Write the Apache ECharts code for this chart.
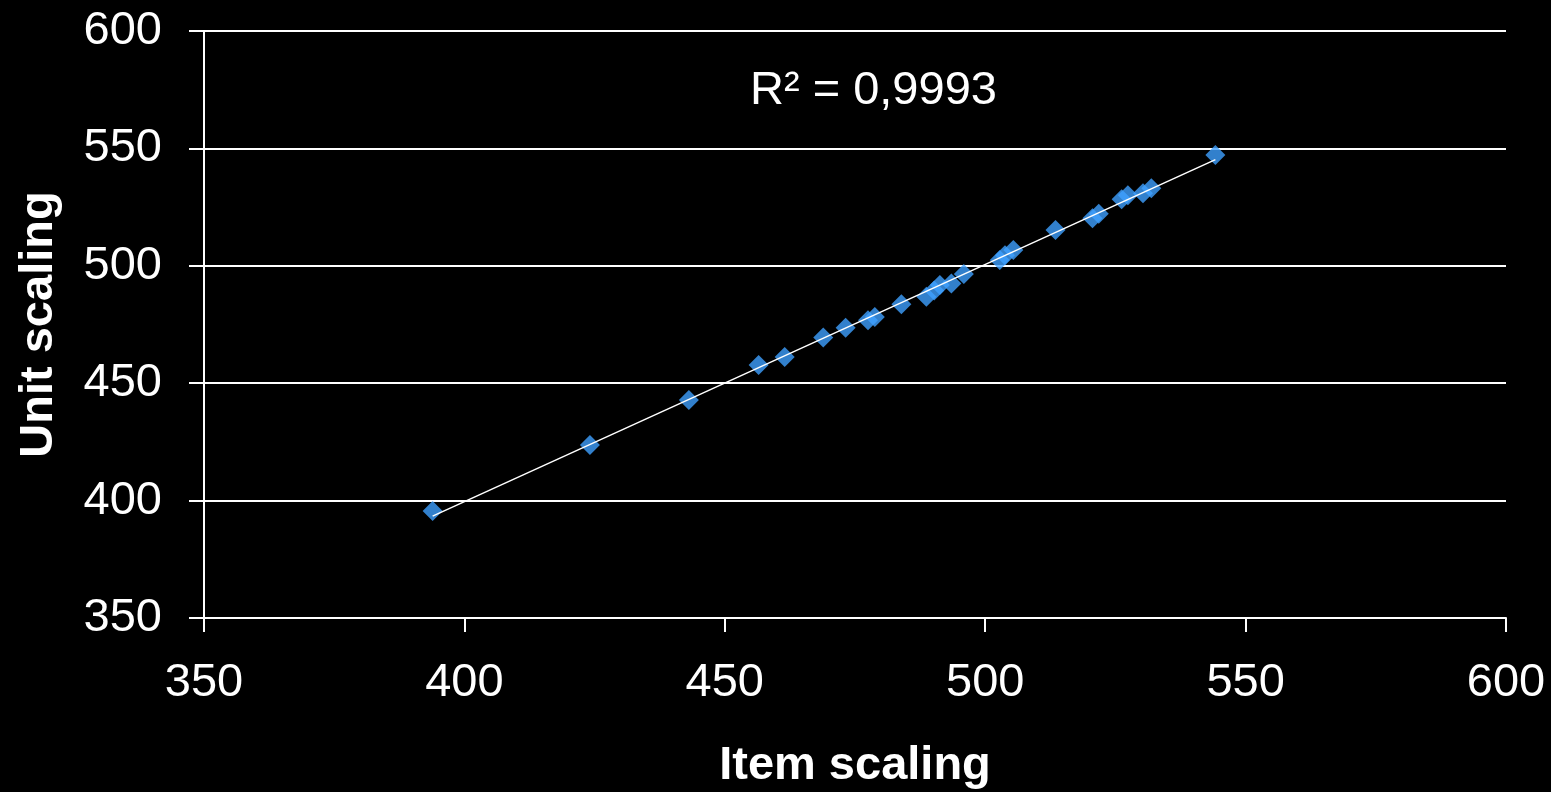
<!DOCTYPE html>
<html>
<head>
<meta charset="utf-8">
<script src="https://cdn.jsdelivr.net/npm/echarts@6/dist/echarts.min.js"></script>
<style>
  html, body { margin: 0; padding: 0; background: #000; }
  #chart { width: 1551px; height: 792px; }
</style>
</head>
<body>
<div id="chart"></div>
<script>
// Paired scores: item-level scaling vs unit-level scaling
const itemScaling = [393.9, 424.1, 443.1, 456.5, 461.5, 468.9, 473.2, 477.5, 478.8, 483.9,
                     488.7, 490.2, 491.3, 493.5, 495.9, 502.8, 503.8, 505.4, 513.5, 520.6,
                     521.8, 526.2, 527.4, 530.3, 531.9, 544.2];
const unitScaling = [395.6, 423.7, 442.8, 457.8, 461.2, 469.5, 473.6, 476.8, 478.2, 483.6,
                     486.8, 489.5, 491.8, 492.5, 496.5, 502.5, 504.5, 506.7, 515.2, 520.3,
                     522.2, 528.3, 530.0, 530.9, 533.0, 547.2];
const axisTicks = [350, 400, 450, 500, 550, 600];
const r2Label = 'R² = 0,9993';

const points = itemScaling.map((x, i) => [x, unitScaling[i]]);

// Least-squares trend line across the observed x range
const n = itemScaling.length;
const mx = itemScaling.reduce((a, b) => a + b, 0) / n;
const my = unitScaling.reduce((a, b) => a + b, 0) / n;
let sxy = 0, sxx = 0;
for (let i = 0; i < n; i++) {
  sxy += (itemScaling[i] - mx) * (unitScaling[i] - my);
  sxx += (itemScaling[i] - mx) ** 2;
}
const slope = sxy / sxx;
const intercept = my - slope * mx;
const xMin = Math.min(...itemScaling), xMax = Math.max(...itemScaling);
const trend = [[xMin, intercept + slope * xMin], [xMax, intercept + slope * xMax]];

const font = 'Liberation Sans, Arial, sans-serif';
const white = '#ffffff';

const chart = echarts.init(document.getElementById('chart'));
chart.setOption({
  backgroundColor: '#000000',
  animation: false,
  grid: { left: 204, right: 45, top: 31, bottom: 174, containLabel: false, outerBoundsMode: 'none' },
  xAxis: {
    type: 'value',
    min: axisTicks[0], max: axisTicks[axisTicks.length - 1], interval: 50,
    name: 'Item scaling', nameLocation: 'middle', nameGap: 125,
    nameTextStyle: { color: white, fontFamily: font, fontSize: 47, fontWeight: 'bold' },
    axisLine: { show: true, lineStyle: { color: white, width: 2 } },
    axisTick: { show: true, length: 14, lineStyle: { color: white, width: 2 } },
    axisLabel: { color: white, fontFamily: font, fontSize: 47, margin: 42 },
    splitLine: { show: false }
  },
  yAxis: {
    type: 'value',
    min: axisTicks[0], max: axisTicks[axisTicks.length - 1], interval: 50,
    name: 'Unit scaling', nameLocation: 'middle', nameGap: 141,
    nameTextStyle: { color: white, fontFamily: font, fontSize: 47, fontWeight: 'bold' },
    axisLine: { show: true, lineStyle: { color: white, width: 2 } },
    axisTick: { show: true, length: 15, lineStyle: { color: white, width: 2 } },
    axisLabel: { color: white, fontFamily: font, fontSize: 47, margin: 42 },
    splitLine: { show: true, lineStyle: { color: white, width: 2 } }
  },
  graphic: [{
    type: 'text',
    left: 750, top: 68,
    style: { text: r2Label, fill: white, font: '47px ' + font }
  }],
  series: [
    {
      type: 'scatter',
      data: points,
      symbol: 'diamond',
      symbolSize: 20,
      itemStyle: { color: '#3fa0ff' },
      z: 3
    },
    {
      type: 'line',
      data: trend,
      symbol: 'none',
      lineStyle: { color: white, width: 1.5 },
      z: 4
    }
  ]
});
</script>
</body>
</html>
